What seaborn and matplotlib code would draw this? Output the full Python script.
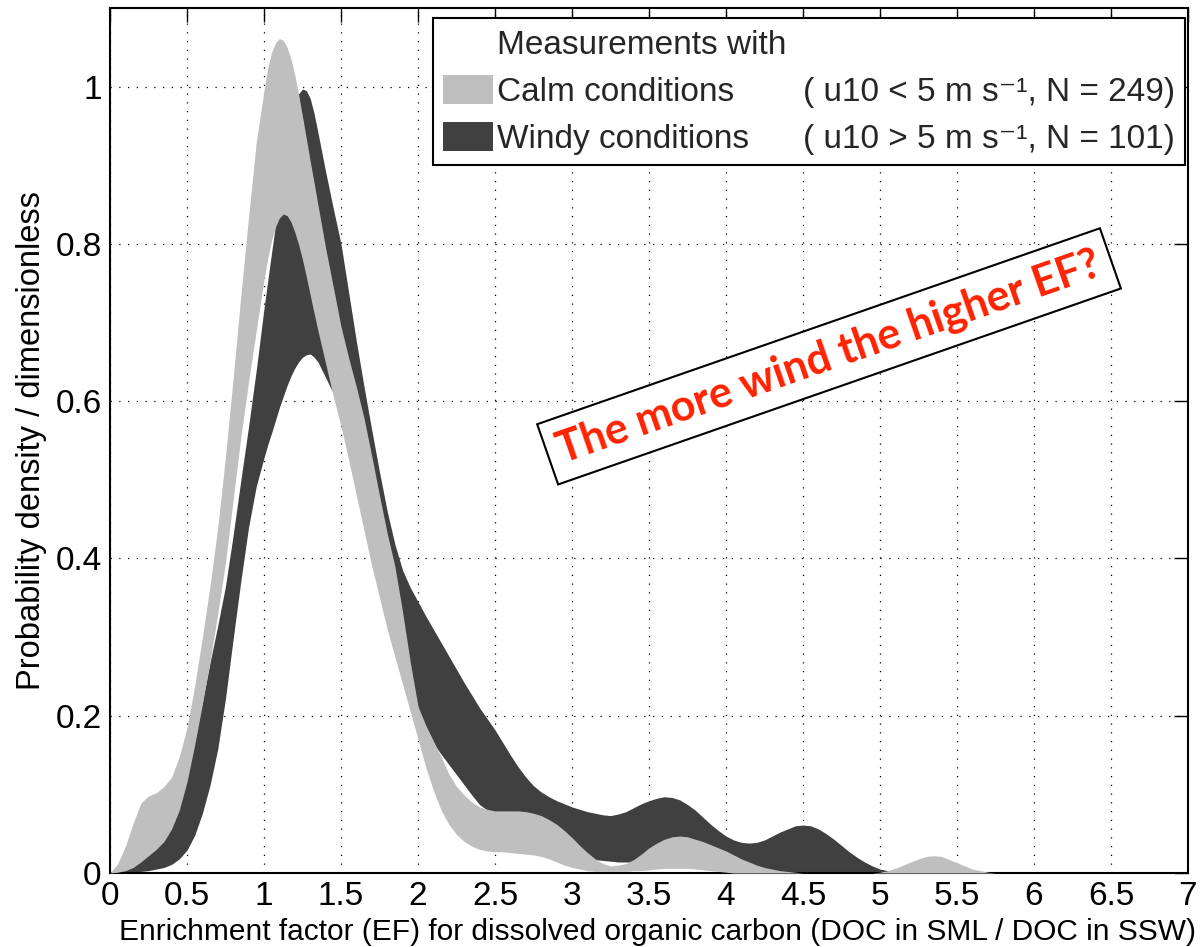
import numpy as np
import matplotlib
matplotlib.use("Agg")
import matplotlib.pyplot as plt
import seaborn as sns
from matplotlib.patches import Patch

# Enrichment factor grid (EF = DOC in SML / DOC in SSW)
ef = [0.00, 0.05, 0.10, 0.15, 0.20, 0.25, 0.30, 0.35, 0.40, 0.45,
      0.50, 0.55, 0.60, 0.65, 0.70, 0.75, 0.80, 0.85, 0.90, 0.95,
      1.000, 1.025, 1.050, 1.075, 1.100, 1.125, 1.150, 1.175, 1.200, 1.225,
      1.250, 1.275, 1.300, 1.325, 1.350,
      1.40, 1.45, 1.50, 1.55, 1.60, 1.65, 1.70, 1.75, 1.80, 1.85, 1.90, 1.95,
      2.00, 2.05, 2.10, 2.15, 2.20, 2.25, 2.30, 2.35, 2.40, 2.45,
      2.50, 2.55, 2.60, 2.65, 2.70, 2.75, 2.80, 2.85, 2.90, 2.95,
      3.00, 3.05, 3.10, 3.15, 3.20, 3.25, 3.30, 3.35, 3.40, 3.45,
      3.50, 3.55, 3.60, 3.65, 3.70, 3.75, 3.80, 3.85, 3.90, 3.95,
      4.00, 4.05, 4.10, 4.15, 4.20, 4.25, 4.30, 4.35, 4.40, 4.45,
      4.50, 4.55, 4.60, 4.65, 4.70, 4.75, 4.80, 4.85, 4.90, 4.95,
      5.00, 5.05, 5.10, 5.15, 5.20, 5.25, 5.30, 5.35, 5.40, 5.45,
      5.50, 5.55, 5.60, 5.65, 5.70, 5.75, 5.80,
      5.90, 6.00]

# Calm conditions (u10 < 5 m/s): lower / upper bound of the probability density
calm_low = [0.000, 0.001, 0.003, 0.007, 0.014, 0.022, 0.030, 0.040, 0.056, 0.080,
            0.116, 0.163, 0.215, 0.270, 0.330, 0.395, 0.475, 0.555, 0.625, 0.690,
            0.755, 0.782, 0.805, 0.822, 0.833, 0.838, 0.836, 0.828, 0.815, 0.799,
            0.780, 0.758, 0.735, 0.712, 0.690,
            0.648, 0.606, 0.568, 0.525, 0.480, 0.435, 0.390, 0.350, 0.310, 0.275, 0.240, 0.205,
            0.170, 0.135, 0.105, 0.080, 0.062, 0.049, 0.040, 0.034, 0.030, 0.028,
            0.027, 0.027, 0.026, 0.025, 0.024, 0.023, 0.021, 0.018, 0.014, 0.010,
            0.007, 0.005, 0.003, 0.002, 0.002, 0.002, 0.002, 0.002, 0.003, 0.003,
            0.004, 0.005, 0.006, 0.006, 0.006, 0.006, 0.005, 0.004, 0.003, 0.002,
            0.001, 0.000, 0.000, 0.000, 0.000, 0.000, 0.000, 0.000, 0.000, 0.000,
            0.000, 0.000, 0.000, 0.000, 0.000, 0.000, 0.000, 0.000, 0.000, 0.000,
            0.000, 0.000, 0.000, 0.000, 0.000, 0.000, 0.000, 0.000, 0.000, 0.000,
            0.000, 0.000, 0.000, 0.000, 0.000, 0.000, 0.000,
            0.000, 0.000]
calm_high = [0.000, 0.012, 0.034, 0.063, 0.089, 0.098, 0.102, 0.110, 0.122, 0.148,
             0.185, 0.238, 0.300, 0.366, 0.440, 0.530, 0.630, 0.735, 0.835, 0.930,
             0.995, 1.025, 1.044, 1.056, 1.061, 1.059, 1.050, 1.035, 1.015, 0.990,
             0.962, 0.934, 0.905, 0.878, 0.850,
             0.795, 0.745, 0.695, 0.655, 0.618, 0.578, 0.530, 0.480, 0.432, 0.390, 0.332, 0.268,
             0.212, 0.188, 0.168, 0.148, 0.126, 0.110, 0.099, 0.090, 0.084, 0.081,
             0.079, 0.079, 0.079, 0.079, 0.078, 0.076, 0.073, 0.068, 0.062, 0.054,
             0.045, 0.035, 0.026, 0.018, 0.012, 0.009, 0.010, 0.012, 0.017, 0.024,
             0.032, 0.038, 0.043, 0.046, 0.047, 0.046, 0.043, 0.040, 0.036, 0.032,
             0.028, 0.023, 0.018, 0.014, 0.010, 0.007, 0.005, 0.003, 0.002, 0.001,
             0.000, 0.000, 0.000, 0.000, 0.000, 0.000, 0.000, 0.000, 0.000, 0.000,
             0.001, 0.003, 0.006, 0.010, 0.014, 0.018, 0.021, 0.022, 0.021, 0.017,
             0.013, 0.009, 0.005, 0.003, 0.001, 0.000, 0.000,
             0.000, 0.000]

# Windy conditions (u10 > 5 m/s): lower / upper bound of the probability density
windy_low = [0.000, 0.000, 0.000, 0.001, 0.002, 0.003, 0.005, 0.007, 0.011, 0.018,
             0.029, 0.048, 0.076, 0.112, 0.158, 0.222, 0.298, 0.372, 0.440, 0.492,
             0.528, 0.545, 0.560, 0.576, 0.592, 0.606, 0.620, 0.632, 0.642, 0.650,
             0.656, 0.659, 0.660, 0.656, 0.650,
             0.630, 0.610, 0.595, 0.570, 0.530, 0.490, 0.450, 0.410, 0.370, 0.330, 0.285, 0.235,
             0.190, 0.178, 0.165, 0.151, 0.138, 0.125, 0.112, 0.099, 0.087, 0.080,
             0.074, 0.068, 0.062, 0.056, 0.051, 0.046, 0.041, 0.036, 0.032, 0.028,
             0.024, 0.021, 0.019, 0.017, 0.016, 0.015, 0.014, 0.014, 0.014, 0.014,
             0.015, 0.015, 0.015, 0.014, 0.013, 0.012, 0.010, 0.008, 0.006, 0.004,
             0.003, 0.002, 0.001, 0.000, 0.000, 0.000, 0.000, 0.000, 0.000, 0.000,
             0.000, 0.000, 0.000, 0.000, 0.000, 0.000, 0.000, 0.000, 0.000, 0.000,
             0.000, 0.000, 0.000, 0.000, 0.000, 0.000, 0.000, 0.000, 0.000, 0.000,
             0.000, 0.000, 0.000, 0.000, 0.000, 0.000, 0.000,
             0.000, 0.000]
windy_high = [0.000, 0.002, 0.005, 0.010, 0.018, 0.027, 0.036, 0.048, 0.065, 0.090,
              0.125, 0.170, 0.218, 0.268, 0.315, 0.365, 0.430, 0.500, 0.568, 0.640,
              0.718, 0.754, 0.790, 0.825, 0.860, 0.896, 0.930, 0.958, 0.978, 0.991,
              0.997, 0.995, 0.985, 0.966, 0.942,
              0.892, 0.845, 0.800, 0.738, 0.676, 0.618, 0.563, 0.510, 0.460, 0.418, 0.385, 0.363,
              0.345, 0.327, 0.310, 0.293, 0.276, 0.259, 0.242, 0.226, 0.210, 0.196,
              0.182, 0.166, 0.150, 0.135, 0.122, 0.111, 0.103, 0.097, 0.092, 0.088,
              0.084, 0.081, 0.078, 0.076, 0.074, 0.073, 0.075, 0.078, 0.083, 0.088,
              0.092, 0.095, 0.097, 0.096, 0.093, 0.087, 0.080, 0.071, 0.062, 0.054,
              0.047, 0.042, 0.039, 0.038, 0.039, 0.042, 0.047, 0.052, 0.056, 0.060,
              0.061, 0.060, 0.056, 0.050, 0.043, 0.035, 0.027, 0.020, 0.014, 0.009,
              0.005, 0.003, 0.001, 0.000, 0.000, 0.000, 0.000, 0.000, 0.000, 0.000,
              0.000, 0.000, 0.000, 0.000, 0.000, 0.000, 0.000,
              0.000, 0.000]

assert len(ef) == len(calm_low) == len(calm_high) == len(windy_low) == len(windy_high)

x_ticks = [0, 0.5, 1, 1.5, 2, 2.5, 3, 3.5, 4, 4.5, 5, 5.5, 6, 6.5, 7]
y_ticks = [0, 0.2, 0.4, 0.6, 0.8, 1]

group_labels = ["Calm conditions", "Windy conditions"]
group_notes = ["( u10 < 5 m s\u207b\u00b9, N = 249)", "( u10 > 5 m s\u207b\u00b9, N = 101)"]
legend_title = "Measurements with"
note_text = "The more wind the higher EF?"

CALM = "#bfbfbf"
WINDY = "#404040"

sns.set_theme(style="white")
plt.rcParams["font.family"] = ["Liberation Sans", "DejaVu Sans"]

fig = plt.figure(figsize=(12.02, 9.47), dpi=100)
ax = fig.add_axes([110 / 1202, 74 / 947, 1078 / 1202, 865 / 947])

ax.fill_between(ef, windy_low, windy_high, color=WINDY, lw=0, zorder=2)
ax.fill_between(ef, calm_low, calm_high, color=CALM, lw=0, zorder=3)

ax.set_xlim(0, 7)
ax.set_ylim(0, 1.1)
ax.set_xticks(x_ticks)
ax.set_xticklabels([f"{v:g}" for v in x_ticks])
ax.set_yticks(y_ticks)
ax.set_yticklabels([f"{v:g}" for v in y_ticks])
ax.tick_params(direction="in", top=True, right=True, length=10, width=1,
               colors="black", labelsize=24, pad=6)
ax.set_axisbelow(True)
ax.grid(True, color="black", linestyle=(0, (1, 6)), linewidth=0.9)
for sp in ax.spines.values():
    sp.set_color("black")
    sp.set_linewidth(1.5)

ax.set_xlabel("Enrichment factor (EF) for dissolved organic carbon (DOC in SML / DOC in SSW)",
              fontsize=21.5, color="black")
ax.xaxis.set_label_coords(0.508, -0.052)
ax.set_ylabel("Probability density / dimensionless", fontsize=23.5, labelpad=6, color="black")

blank = Patch(facecolor="none", edgecolor="none")
handles = [blank, Patch(facecolor=CALM, edgecolor="none"), Patch(facecolor=WINDY, edgecolor="none"),
           blank, blank, blank]
labels = [legend_title, group_labels[0], group_labels[1], " ", group_notes[0], group_notes[1]]
leg = ax.legend(handles, labels, ncol=2, loc="upper right",
                bbox_to_anchor=((1185 - 110) / 1078, (873 - 18) / 865), borderaxespad=0,
                fontsize=24, handlelength=1.5, handleheight=0.96, handletextpad=0.12,
                borderpad=0.3, labelspacing=0.42, columnspacing=-1.12,
                frameon=True, fancybox=False, framealpha=1)
leg.get_frame().set_edgecolor("black")
leg.get_frame().set_linewidth(1.5)
leg.set_zorder(10)

ax.text(4.669, 0.657, note_text, rotation=19.2, rotation_mode="anchor",
        ha="center", va="center", fontsize=31, fontweight="bold",
        family=["Lato", "DejaVu Sans"], color="#ff2200", zorder=11,
        bbox=dict(boxstyle="square,pad=0.27", facecolor="white", edgecolor="black", linewidth=1.5))

fig.savefig("out.png", dpi=100)
